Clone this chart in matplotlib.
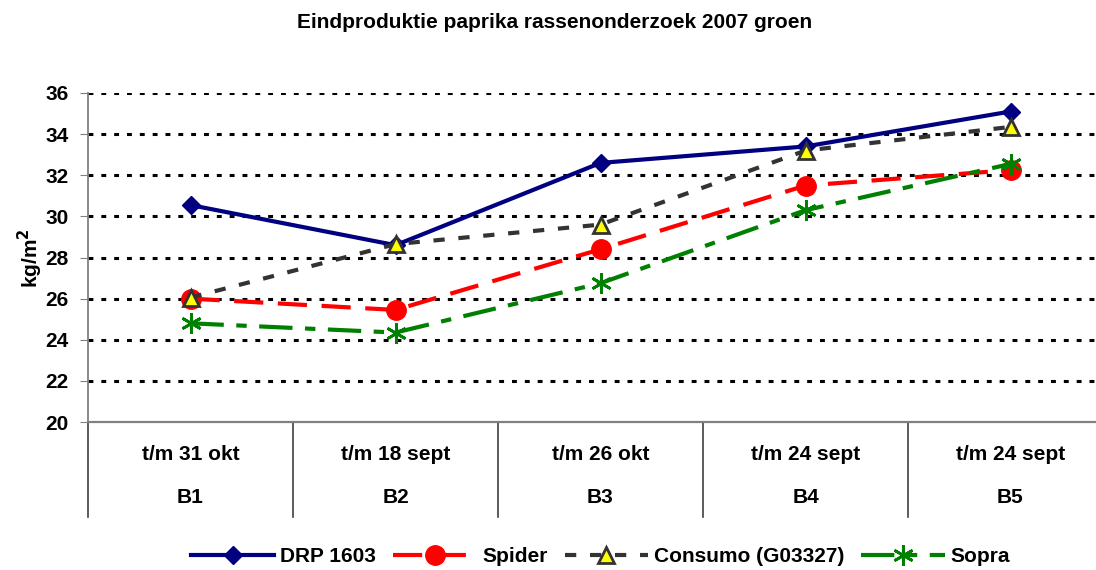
import matplotlib.pyplot as plt
from matplotlib.transforms import blended_transform_factory

plt.rcParams['font.family'] = ['Liberation Sans', 'DejaVu Sans']
plt.rcParams['font.weight'] = 'bold'
plt.rcParams['mathtext.default'] = 'bf'

# data
periodes = ["t/m 31 okt", "t/m 18 sept", "t/m 26 okt", "t/m 24 sept", "t/m 24 sept"]
bedrijven = ["B1", "B2", "B3", "B4", "B5"]
drp_1603 = [30.55, 28.6, 32.6, 33.4, 35.1]
spider = [26.0, 25.45, 28.4, 31.5, 32.25]
consumo = [26.05, 28.65, 29.6, 33.2, 34.35]
sopra = [24.8, 24.35, 26.75, 30.3, 32.55]
y_ticks = [20, 22, 24, 26, 28, 30, 32, 34, 36]

fig = plt.figure(figsize=(10.96, 5.70), dpi=100)
ax = fig.add_axes([88 / 1096, 148 / 570, 1025 / 1096, 329 / 570])

x = list(range(len(bedrijven)))

ax.plot(x, drp_1603, color="#000080", lw=3, marker="D", ms=9,
        label="DRP 1603", zorder=3)
ax.plot(x, spider, color="#FF0000", lw=3, dashes=(7, 3.5), marker="o", ms=14,
        label="Spider", zorder=4)
ax.plot(x, consumo, color="#333333", lw=3, dashes=(2.7, 3.3), marker="^", ms=12,
        markerfacecolor="#FFFF00", markeredgecolor="#333333", markeredgewidth=2,
        label="Consumo (G03327)", zorder=5)
ax.plot(x, sopra, color="#008000", lw=3, dashes=(8, 3, 2.5, 3), marker=(6, 2, 0),
        ms=15, markeredgewidth=2, markeredgecolor="#008000",
        label="Sopra", zorder=6)

ax.set_xlim(-0.5, len(bedrijven) - 0.5)
ax.set_ylim(20, 36)
ax.set_yticks(y_ticks)
ax.set_yticklabels([str(t) for t in y_ticks], fontsize=15, fontweight="bold")
ax.set_xticks([])

for t in y_ticks[1:]:
    ax.axhline(t, color="black", lw=2.2, dashes=(1.6, 2.6), zorder=1)

for s in ["top", "right"]:
    ax.spines[s].set_visible(False)
ax.spines["left"].set_color("#808080")
ax.spines["bottom"].set_color("#808080")
ax.spines["left"].set_linewidth(1.3)
ax.spines["bottom"].set_linewidth(1.6)
ax.tick_params(axis="y", direction="out", length=6, color="#808080", pad=8)

trans = blended_transform_factory(ax.transData, ax.transAxes)
for i in range(len(bedrijven) + 1):
    ax.plot([i - 0.5, i - 0.5], [0, -0.29], color="#404040", lw=1.2,
            transform=trans, clip_on=False)
for i, (p, b) in enumerate(zip(periodes, bedrijven)):
    ax.text(i, -0.10, p, transform=trans, ha="center", va="center",
            fontsize=15, fontweight="bold")
    ax.text(i, -0.231, b, transform=trans, ha="center", va="center",
            fontsize=15, fontweight="bold")

fig.text(0.506, 1 - 22 / 570, "Eindproduktie paprika rassenonderzoek 2007 groen",
         ha="center", va="center", fontsize=15, fontweight="bold")
fig.text(30 / 1096, 1 - 258 / 570, "kg/m$^{2}$", rotation=90, ha="center", va="center",
         fontsize=15, fontweight="bold")

fig.legend(loc="center", bbox_to_anchor=(0.548, 1 - 557 / 570), ncol=4,
           frameon=False, handlelength=4, columnspacing=0.8, handletextpad=0.3,
           prop={"size": 15, "weight": "bold"})

fig.savefig("out.png", dpi=100)
